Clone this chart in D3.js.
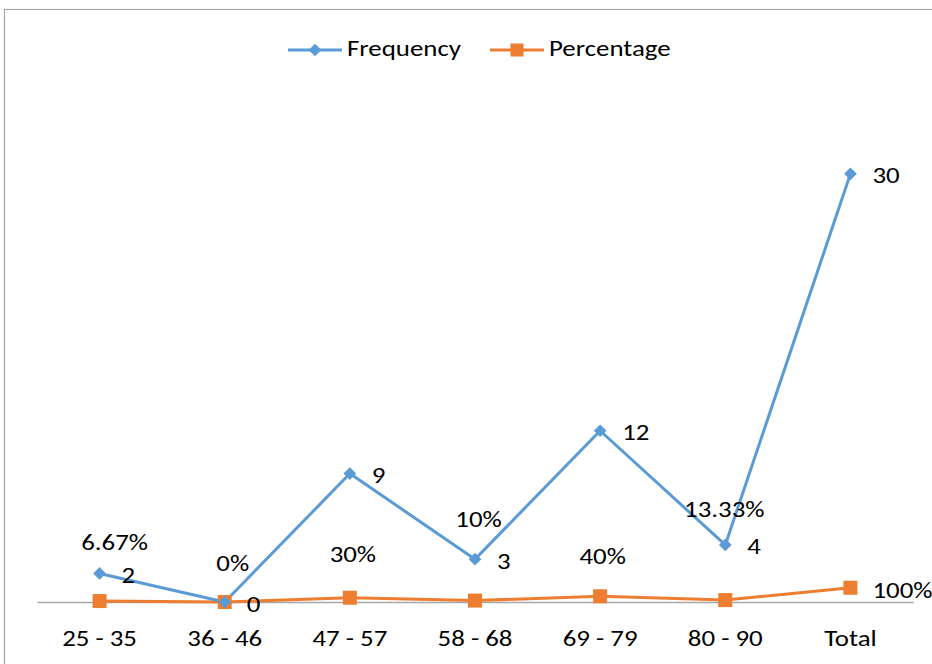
<!DOCTYPE html>
<html>
<head>
<meta charset="utf-8">
<script src="https://cdn.jsdelivr.net/npm/d3@7"></script>
<style>
  html, body { margin: 0; padding: 0; background: #fff; }
  svg { display: block; }
  text { font-family: Carlito, Calibri, Lato, "Open Sans", sans-serif; font-weight: normal; fill: #000; }
</style>
</head>
<body>
<svg id="chart" width="932" height="664"></svg>
<script>
// Age groups and their counts / shares
const categories = ["25 - 35", "36 - 46", "47 - 57", "58 - 68", "69 - 79", "80 - 90", "Total"];
const frequency = [2, 0, 9, 3, 12, 4, 30];
const percentage = [0.0667, 0, 0.30, 0.10, 0.40, 0.1333, 1.00];
const percentageLabels = ["6.67%", "0%", "30%", "10%", "40%", "13.33%", "100%"];
// Hand-placed label nudges for the percentage series [dx, dy, anchor]
const percentageLabelNudge = [
  [15, -51, "middle"], [8, -31, "middle"], [3, -36, "middle"], [3.5, -74, "middle"],
  [2.5, -32, "middle"], [-1, -83, "middle"], [22, 10, "start"]
];

const BLUE = "#5B9BD5", ORANGE = "#ED7D31";
const FONT_SIZE = 21.5, STRETCH = 1.25;

const svg = d3.select("#chart");

// Chart frame
svg.append("rect")
  .attr("x", 4.5).attr("y", 9.5).attr("width", 960).attr("height", 700)
  .attr("fill", "#fff").attr("stroke", "#a6a6a6").attr("stroke-width", 1.2);

const x = d3.scaleBand().domain(categories).range([37, 913]);
const y = d3.scaleLinear().domain([0, 35]).range([602, 102.5]);
const cx = c => x(c) + x.bandwidth() / 2;

// Horizontally widened text, positioned by translate
function label(g, tx, ty, str, anchor) {
  return g.append("text")
    .attr("transform", `translate(${tx},${ty}) scale(${STRETCH},1)`)
    .attr("text-anchor", anchor || "start")
    .attr("font-size", FONT_SIZE)
    .text(str);
}

// Category axis
const xAxis = d3.axisBottom(x).tickSize(0).tickPadding(0);
const axisG = svg.append("g").attr("transform", "translate(0,602)").call(xAxis);
axisG.select(".domain").attr("stroke", "#a6a6a6").attr("stroke-width", 1.3);
axisG.selectAll(".tick text").remove();
axisG.selectAll(".tick").each(function(d) {
  label(d3.select(this), 0, 44, d, "middle");
});

// Lines
const seriesLine = d3.line().x((d, i) => cx(categories[i])).y(d => y(d));
svg.append("path").datum(percentage)
  .attr("d", seriesLine).attr("fill", "none")
  .attr("stroke", ORANGE).attr("stroke-width", 3).attr("stroke-linejoin", "round");
svg.append("path").datum(frequency)
  .attr("d", seriesLine).attr("fill", "none")
  .attr("stroke", BLUE).attr("stroke-width", 3).attr("stroke-linejoin", "round");

// Markers
svg.selectAll(".pmark").data(percentage).join("rect")
  .attr("class", "pmark")
  .attr("x", (d, i) => cx(categories[i]) - 7).attr("y", d => y(d) - 7)
  .attr("width", 14).attr("height", 14).attr("fill", ORANGE);
svg.selectAll(".fmark").data(frequency).join("rect")
  .attr("class", "fmark")
  .attr("x", -4.5).attr("y", -4.5).attr("width", 9).attr("height", 9)
  .attr("transform", (d, i) => `translate(${cx(categories[i])},${y(d)}) rotate(45)`)
  .attr("fill", BLUE);

// Data labels
const labelsG = svg.append("g");
frequency.forEach((v, i) => {
  label(labelsG, cx(categories[i]) + 22, y(v) + 9.5, String(v), "start");
});
percentage.forEach((v, i) => {
  const [dx, dy, anchor] = percentageLabelNudge[i];
  label(labelsG, cx(categories[i]) + dx, y(v) + dy, percentageLabels[i], anchor);
});

// Legend
const legend = svg.append("g");
const legendItems = [
  { name: "Frequency", color: BLUE, x0: 288, shape: "diamond" },
  { name: "Percentage", color: ORANGE, x0: 490, shape: "square" }
];
legendItems.forEach(it => {
  legend.append("line")
    .attr("x1", it.x0).attr("x2", it.x0 + 54).attr("y1", 50).attr("y2", 50)
    .attr("stroke", it.color).attr("stroke-width", 3);
  if (it.shape === "diamond") {
    legend.append("rect")
      .attr("x", -4.5).attr("y", -4.5).attr("width", 9).attr("height", 9)
      .attr("transform", `translate(${it.x0 + 27},50) rotate(45)`)
      .attr("fill", it.color);
  } else {
    legend.append("rect")
      .attr("x", it.x0 + 27 - 6.5).attr("y", 43.5).attr("width", 13).attr("height", 13)
      .attr("fill", it.color);
  }
  label(legend, it.x0 + 59, 56, it.name, "start");
});
</script>
</body>
</html>
